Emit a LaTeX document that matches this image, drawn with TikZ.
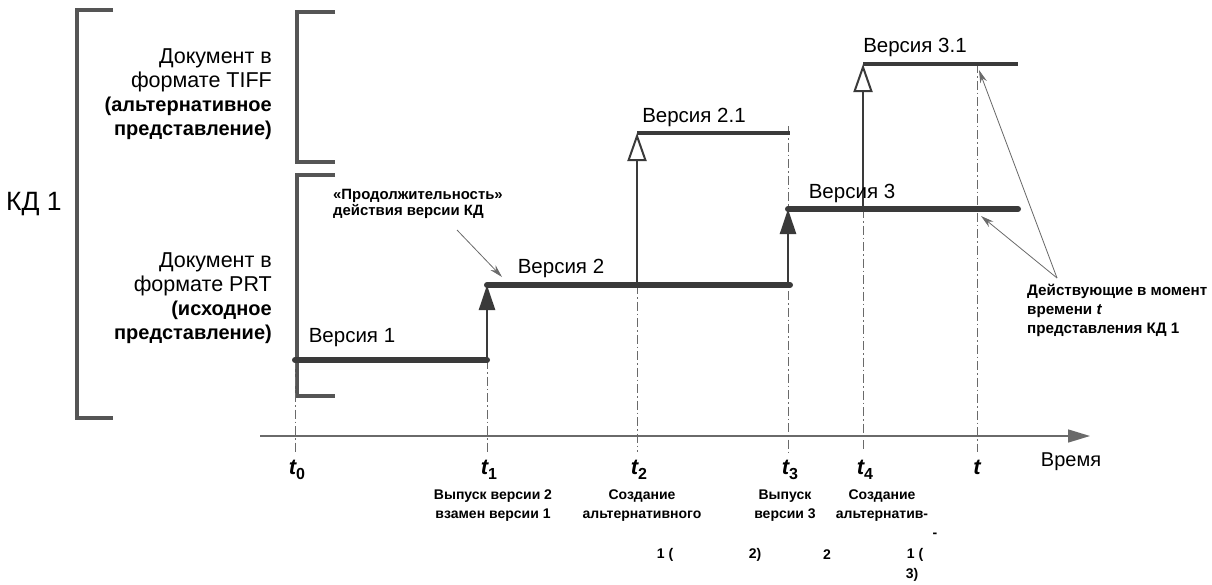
\documentclass[tikz,border=0pt]{standalone}
\usepackage{fontspec}
\setmainfont{Liberation Sans}
\usetikzlibrary{arrows.meta}
\definecolor{ln}{HTML}{3A3A3A}
\definecolor{br}{HTML}{555555}
\definecolor{thin}{HTML}{6A6A6A}
\newcommand\tsub[2]{#1\raisebox{-5pt}{\fontsize{16}{16}\selectfont\bfseries\upshape #2}}
\newcommand\reglines{\fontsize{21.5}{24}\selectfont}
\newcommand\boldlines{\fontsize{20}{24}\selectfont\bfseries}
\begin{document}
\begin{tikzpicture}[x=1pt,y=-1pt,
  bracket/.style={draw=br, line width=4pt, line cap=butt, line join=miter},
  verthick/.style={draw=ln, line width=6pt, line cap=round},
  verthin/.style={draw=ln, line width=3.5pt, line cap=butt},
  stem/.style={draw=ln, line width=2.5pt},
  filledarr/.style={-{Triangle[length=25pt,width=16pt]}},
  openarr/.style={-{Triangle[open,length=28pt,width=19pt,line width=2pt]}},
  guide/.style={draw=thin, line width=0.8pt, dash pattern=on 9pt off 3pt on 1.5pt off 3pt},
  note/.style={draw=thin, line width=0.8pt, -{Stealth[length=13pt,width=7pt]}},
  doc/.style={align=right, anchor=east, font=\fontsize{20}{24}\selectfont, inner sep=0},
  ver/.style={font=\fontsize{20.5}{24}\selectfont, inner sep=0},
  small/.style={font=\bfseries\fontsize{14}{19}\selectfont, inner sep=0, align=center},
  tiny/.style={font=\bfseries\fontsize{14}{15}\selectfont, inner sep=0},
  ann/.style={inner sep=0, align=left},
  tl/.style={font=\bfseries\itshape\fontsize{22}{24}\selectfont, inner sep=0}
]
\useasboundingbox (0,0) rectangle (1212,584);

% brackets
\draw[bracket] (113,10) -- (77,10) -- (77,418) -- (113,418);
\draw[bracket] (335,12) -- (297,12) -- (297,162) -- (335,162);
\draw[bracket] (335,175) -- (297,175) -- (297,396) -- (335,396);

\node[anchor=west, inner sep=0, font=\fontsize{26.5}{30}\selectfont] (kd) at (6,204) {КД 1};
\node[doc] (tiff) at (272,94) {{\reglines Документ в}\\{\reglines формате TIFF}\\{\boldlines (альтернативное}\\{\boldlines представление)}};
\node[doc] (prt) at (272,298) {{\reglines Документ в}\\{\reglines формате PRT}\\{\boldlines (исходное}\\{\boldlines представление)}};

% key coordinates
\coordinate (v1s) at (295,360);
\coordinate (v1e) at (487,360);
\coordinate (v2s) at (487,285);
\coordinate (v2e) at (790,285);
\coordinate (v21b) at (637,285);
\coordinate (v21s) at (637,133);
\coordinate (v21e) at (790,133);
\coordinate (v3b) at (788,285);
\coordinate (v3s) at (788,209);
\coordinate (v3e) at (1018,209);
\coordinate (v31b) at (863,209);
\coordinate (v31s) at (863,64);
\coordinate (v31e) at (1018,64);

% guide lines
\coordinate (g0) at (295,452);
\coordinate (g1) at (487,452);
\coordinate (g2) at (637,452);
\coordinate (g3t) at (788,126);
\coordinate (g3) at (788,452);
\coordinate (g4) at (863,452);
\coordinate (gtt) at (977,64);
\coordinate (gt) at (977,452);
\draw[guide] (v1s) -- (g0);
\draw[guide] (v1e) -- (g1);
\draw[guide] (v21b) -- (g2);
\draw[guide] (g3t) -- (g3);
\draw[guide] (v31b) -- (g4);
\draw[guide] (gtt) -- (gt);

% axis
\coordinate (ax0) at (260,436);
\coordinate (ax1) at (1090,436);
\draw[draw=thin, line width=1.5pt, -{Triangle[length=22pt,width=13pt]}] (ax0) -- (ax1);

% arrows
\draw[stem, filledarr] (v1e) -- (v2s);
\draw[stem, openarr] (v21b) -- (v21s);
\draw[stem, filledarr] (v3b) -- (v3s);
\draw[stem, openarr] (v31b) -- (v31s);

% version lines
\draw[verthick] (v1s) -- (v1e);
\draw[verthick] (v2s) -- (v2e);
\draw[verthick] (v3s) -- (v3e);
\draw[verthin] (v21s) -- (v21e);
\draw[verthin] (v31s) -- (v31e);

\node[ver] (l1) at (352,338) {Версия 1};
\node[ver] (l2) at (561,268) {Версия 2};
\node[ver] (l21) at (694,117) {Версия 2.1};
\node[ver] (l3) at (852,193) {Версия 3};
\node[ver] (l31) at (915,47) {Версия 3.1};

% annotation top-left
\node[ann, anchor=north west, font=\bfseries\fontsize{14.9}{16}\selectfont] (dur) at (333,189) {«Продолжительность»\\действия версии КД};
\coordinate (dura) at (457,230);
\coordinate (durb) at (502,277);
\draw[note] (dura) -- (durb);

% annotation right
\node[ann, anchor=north west, font=\bfseries\fontsize{15.2}{19}\selectfont] (act) at (1027,284) {Действующие в момент\\времени \textit{t}\\представления КД 1};
\coordinate (acta) at (1057,278);
\coordinate (actb) at (979,70);
\coordinate (actc) at (981,216);
\draw[note] (acta) -- (actb);
\draw[note] (acta) -- (actc);

% time labels
\node[tl] (t0) at (297,470) {\tsub{t}{0}};
\node[tl] (t1) at (489,470) {\tsub{t}{1}};
\node[tl] (t2) at (639,470) {\tsub{t}{2}};
\node[tl] (t3) at (790,470) {\tsub{t}{3}};
\node[tl] (t4) at (865,470) {\tsub{t}{4}};
\node[tl] (tt) at (977,467) {t};
\node[inner sep=0, font=\fontsize{20}{24}\selectfont] (time) at (1071,462) {Время};

\node[small] (e1) at (493,506) {Выпуск версии 2\\взамен версии 1};
\node[small] (e2) at (642,506) {Создание\\альтернативного};
\node[small] (e3) at (785,506) {Выпуск\\версии 3};
\node[small] (e4) at (882,506) {Создание\\альтернатив-};
\node[tiny] (x1) at (935,535) {-};
\node[tiny] (x2) at (665,555) {1 (};
\node[tiny] (x3) at (755,555) {2)};
\node[tiny] (x4) at (827,555) {2};
\node[tiny] (x5) at (915,555) {1 (};
\node[tiny] (x6) at (912,575) {3)};
\end{tikzpicture}
\end{document}
